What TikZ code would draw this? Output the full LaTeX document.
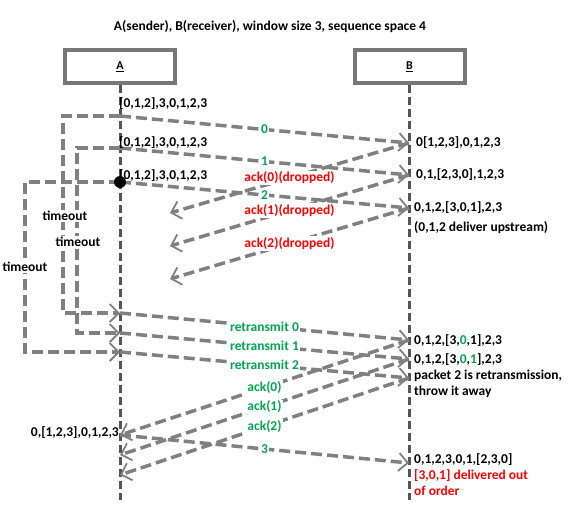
\documentclass[tikz,border=0pt]{standalone}
\usepackage{fontspec}
\setmainfont{Carlito}
\usetikzlibrary{arrows.meta}
\definecolor{lnclr}{HTML}{808080}
\definecolor{lifeclr}{HTML}{555555}
\definecolor{boxclr}{HTML}{777777}
\definecolor{grn}{HTML}{00A650}
\tikzset{
  box/.style={draw=boxclr, line width=4pt, fill=white, minimum width=110pt, minimum height=33pt, inner sep=0pt, font=\bfseries\fontsize{12}{14}\selectfont},
  life/.style={draw=lifeclr, line width=3pt, dash pattern=on 8pt off 4pt},
  pkt/.style={draw=lnclr, line width=3.5pt, dash pattern=on 11pt off 5pt, -{Straight Barb[length=9pt,width=18pt,line width=1.8pt]}},
  lbl/.style={font=\bfseries\fontsize{13.5}{16}\selectfont, inner sep=1pt},
  mid/.style={lbl, fill=white, text=grn},
  drop/.style={lbl, fill=white, text=red},
}
\begin{document}
\begin{tikzpicture}[x=1pt, y=-1pt]
  \useasboundingbox (0,0) rectangle (571,511);
  \node[lbl] (title) at (270,27) {A(sender), B(receiver), window size 3, sequence space 4};
  \node[box] (A) at (120,66.5) {\underline{A}};
  \node[box] (B) at (409.5,66.5) {\underline{B}};
  \coordinate (Aend) at (120,500);
  \coordinate (Bend) at (409,500);
  \draw[life] (A.south) -- (Aend);
  \draw[life] ([xshift=-0.5pt]B.south) -- (Bend);
  % points on A
  \coordinate (s0) at (120,116);
  \coordinate (s1) at (120,148);
  \coordinate (s2) at (120,182);
  \coordinate (r0) at (120,313);
  \coordinate (r1) at (120,333);
  \coordinate (r2) at (120,352);
  \coordinate (e0) at (120,435);
  \coordinate (e1) at (120,455);
  \coordinate (e2) at (120,475);
  % points on B
  \coordinate (b0) at (409,143);
  \coordinate (b1) at (409,175);
  \coordinate (b2) at (409,208);
  \coordinate (c0) at (409,340);
  \coordinate (c1) at (409,359);
  \coordinate (c2) at (409,378);
  \coordinate (c3) at (409,463);
  % lost acks
  \coordinate (d0) at (170,213);
  \coordinate (d1) at (170,246);
  \coordinate (d2) at (170,279);
  % timeouts
  \draw[pkt] (s0) -- (63,116) -- (63,313) -- (r0);
  \draw[pkt] (s1) -- (77,148) -- (77,333) -- (r1);
  \draw[pkt] (s2) -- (25,182) -- (25,352) -- (r2);
  \node[lbl, fill=white] (t0) at (65,216) {timeout};
  \node[lbl, fill=white] (t1) at (78,242) {timeout};
  \node[lbl, fill=white] (t2) at (25,267) {timeout};
  % first window
  \draw[pkt] (s0) -- (b0) node[mid, midway] (p0) {0};
  \draw[pkt] (s1) -- (b1) node[mid, midway] (p1) {1};
  \draw[pkt] (s2) -- (b2) node[mid, midway] (p2) {2};
  \draw[pkt] (b0) -- (d0) node[drop, midway] (k0) {ack(0)(dropped)};
  \draw[pkt] (b1) -- (d1) node[drop, midway] (k1) {ack(1)(dropped)};
  \draw[pkt] (b2) -- (d2) node[drop, midway] (k2) {ack(2)(dropped)};
  % retransmissions
  \draw[pkt] (r0) -- (c0) node[mid, midway] (q0) {retransmit 0};
  \draw[pkt] (r1) -- (c1) node[mid, midway] (q1) {retransmit 1};
  \draw[pkt] (r2) -- (c2) node[mid, midway] (q2) {retransmit 2};
  \draw[pkt] (c0) -- (e0) node[mid, midway] (g0) {ack(0)};
  \draw[pkt] (c1) -- (e1) node[mid, midway] (g1) {ack(1)};
  \draw[pkt] (c2) -- (e2) node[mid, midway] (g2) {ack(2)};
  \draw[pkt] (e0) -- (c3) node[mid, midway] (p3) {3};
  \fill (s2) circle (6pt);
  % windows at A
  \node[lbl, anchor=west, inner sep=0pt] (wa0) at (119,104) {[0,1,2],3,0,1,2,3};
  \node[lbl, anchor=west, inner sep=0pt] (wa1) at (119,143) {[0,1,2],3,0,1,2,3};
  \node[lbl, anchor=west, inner sep=0pt] (wa2) at (119,176) {[0,1,2],3,0,1,2,3};
  \node[lbl, anchor=east, inner sep=0pt] (wa3) at (119,433) {0,[1,2,3],0,1,2,3};
  % windows at B
  \node[lbl, anchor=west, inner sep=0pt] (wb0) at (416,143) {0[1,2,3],0,1,2,3};
  \node[lbl, anchor=west, inner sep=0pt] (wb1) at (416,175) {0,1,[2,3,0],1,2,3};
  \node[lbl, anchor=west, inner sep=0pt] (wb2) at (414,208) {0,1,2,[3,0,1],2,3};
  \node[lbl, anchor=west, inner sep=0pt] (wb3) at (414,228) {(0,1,2 deliver upstream)};
  \node[lbl, anchor=west, inner sep=0pt] (wb4) at (414,341) {0,1,2,[3,{\color{grn}0},1],2,3};
  \node[lbl, anchor=west, inner sep=0pt] (wb5) at (414,360) {0,1,2,[3,{\color{grn}0},{\color{grn}1}],2,3};
  \node[lbl, anchor=north west, inner sep=0pt, align=left] (wb6) at (414,370) {packet 2 is retransmission,\\throw it away};
  \node[lbl, anchor=west, inner sep=0pt] (wb7) at (414,460) {0,1,2,3,0,1,[2,3,0]};
  \node[lbl, anchor=north west, inner sep=0pt, align=left, text=red] (wb8) at (414,469) {[3,0,1] delivered out\\of order};
\end{tikzpicture}
\end{document}
